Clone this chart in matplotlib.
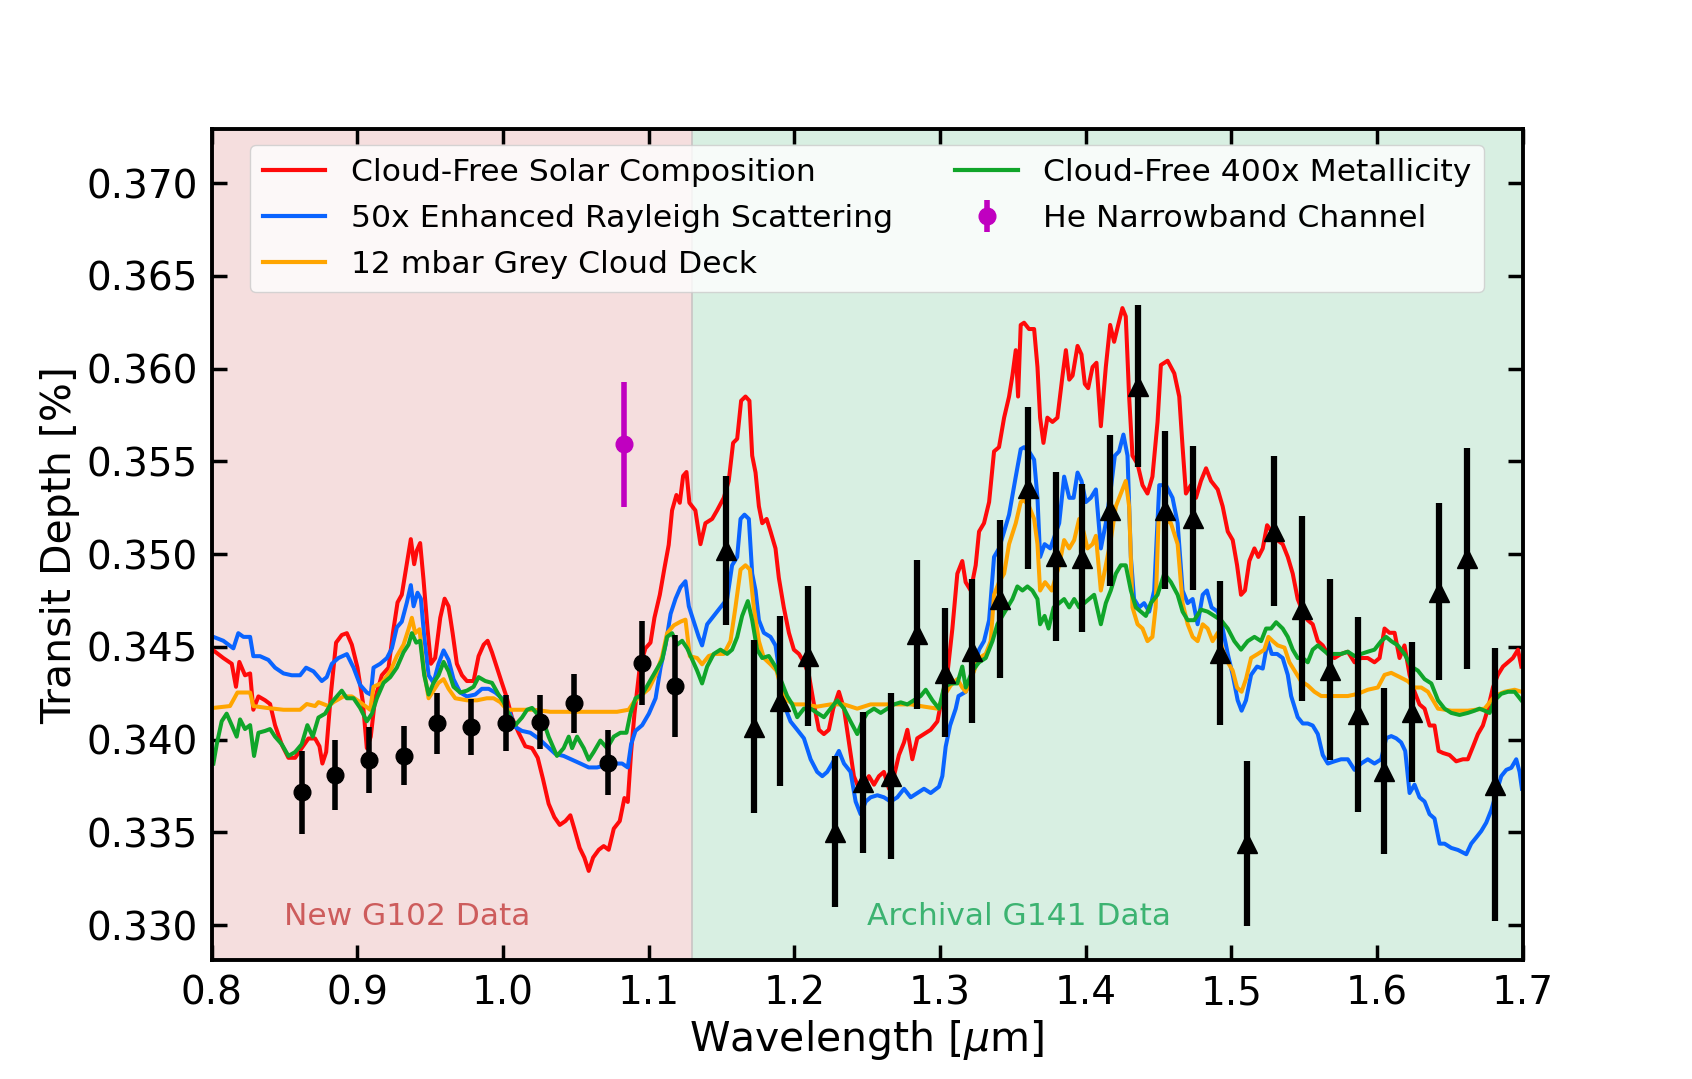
import numpy as np
import matplotlib
matplotlib.use("Agg")
import matplotlib.pyplot as plt
from matplotlib.ticker import FormatStrFormatter

# ---------------- data ----------------
solar_pts = [
    (0.8013,0.34481),(0.8081,0.34440),(0.8139,0.34409),(0.8168,0.34285),(0.8191,0.34419),(0.8230,0.34347),
    (0.8265,0.34357),(0.8287,0.34161),(0.8322,0.34233),(0.8368,0.34212),(0.8402,0.34192),(0.8436,0.34078),
    (0.8482,0.33974),(0.8528,0.33902),(0.8574,0.33902),(0.8619,0.33954),(0.8665,0.34006),(0.8711,0.34006),
    (0.8741,0.33964),(0.8761,0.33871),(0.8787,0.33933),(0.8819,0.34243),(0.8855,0.34523),(0.8894,0.34564),
    (0.8929,0.34574),(0.8963,0.34512),(0.9002,0.34388),(0.9039,0.34202),(0.9066,0.33954),(0.9093,0.34016),
    (0.9123,0.34223),(0.9169,0.34347),(0.9215,0.34388),(0.9245,0.34574),(0.9277,0.34740),(0.9306,0.34781),
    (0.9336,0.34926),(0.9368,0.35081),(0.9391,0.34946),(0.9409,0.35019),(0.9432,0.35060),(0.9455,0.34864),
    (0.9483,0.34595),(0.9506,0.34409),(0.9535,0.34440),(0.9570,0.34657),(0.9600,0.34760),(0.9627,0.34719),
    (0.9655,0.34574),(0.9684,0.34409),(0.9719,0.34347),(0.9753,0.34316),(0.9799,0.34316),(0.9833,0.34450),
    (0.9868,0.34512),(0.9895,0.34533),(0.9925,0.34471),(0.9959,0.34388),(0.9993,0.34306),(1.0028,0.34223),
    (1.0062,0.34119),(1.0108,0.34037),(1.0154,0.33964),(1.0200,0.33954),(1.0239,0.33902),(1.0275,0.33788),
    (1.0314,0.33654),(1.0353,0.33582),(1.0390,0.33540),(1.0429,0.33561),(1.0463,0.33592),(1.0490,0.33520),
    (1.0527,0.33416),(1.0559,0.33364),(1.0589,0.33292),(1.0619,0.33364),(1.0658,0.33406),(1.0692,0.33426),
    (1.0726,0.33406),(1.0761,0.33520),(1.0802,0.33561),(1.0834,0.33685),(1.0857,0.33664),(1.0880,0.33933),
    (1.0903,0.34140),(1.0939,0.34388),(1.0978,0.34492),(1.1013,0.34523),(1.1040,0.34657),(1.1077,0.34781),
    (1.1109,0.34926),(1.1138,0.35050),(1.1161,0.35236),(1.1191,0.35319),(1.1214,0.35277),(1.1237,0.35422),
    (1.1260,0.35443),(1.1280,0.35277),
    (1.1321,0.35236),(1.1356,0.35054),(1.1390,0.35167),(1.1436,0.35190),(1.1470,0.35236),(1.1516,0.35304),
    (1.1550,0.35395),(1.1580,0.35600),(1.1608,0.35622),(1.1635,0.35827),(1.1665,0.35850),(1.1692,0.35827),
    (1.1711,0.35531),(1.1734,0.35440),(1.1757,0.35258),(1.1780,0.35167),(1.1810,0.35190),(1.1837,0.35122),
    (1.1871,0.35031),(1.1894,0.34872),(1.1928,0.34713),(1.1963,0.34576),(1.1997,0.34485),(1.2032,0.34462),
    (1.2066,0.34417),(1.2100,0.34349),(1.2135,0.34190),(1.2169,0.34053),(1.2203,0.34030),(1.2237,0.34053),
    (1.2267,0.34167),(1.2306,0.34258),(1.2341,0.34167),(1.2375,0.33985),(1.2409,0.33803),(1.2444,0.33735),
    (1.2478,0.33757),(1.2512,0.33803),(1.2547,0.33757),(1.2581,0.33803),(1.2615,0.33826),(1.2650,0.33735),
    (1.2684,0.33803),(1.2718,0.33917),(1.2753,0.33985),(1.2776,0.34053),(1.2810,0.33894),(1.2844,0.34007),
    (1.2890,0.34030),(1.2936,0.34053),(1.2982,0.34098),(1.3016,0.34235),(1.3050,0.34349),(1.3085,0.34599),
    (1.3119,0.34895),(1.3153,0.34963),(1.3176,0.34849),(1.3211,0.34804),(1.3245,0.34940),(1.3268,0.35122),
    (1.3302,0.35167),(1.3337,0.35281),(1.3371,0.35554),(1.3405,0.35577),(1.3440,0.35736),(1.3474,0.35850),
    (1.3497,0.35963),(1.3520,0.36100),(1.3536,0.35850),(1.3554,0.36236),(1.3577,0.36248),(1.3611,0.36214),
    (1.3646,0.36214),(1.3669,0.36009),(1.3687,0.35736),(1.3710,0.35600),(1.3737,0.35736),(1.3772,0.35713),
    (1.3806,0.35736),(1.3841,0.35963),(1.3864,0.36100),(1.3887,0.35941),(1.3910,0.35963),(1.3944,0.36123),
    (1.3971,0.36077),(1.3994,0.35918),(1.4017,0.35895),(1.4047,0.36009),(1.4074,0.36032),(1.4104,0.35690),
    (1.4138,0.36009),(1.4168,0.36236),(1.4195,0.36145),(1.4223,0.36236),(1.4252,0.36327),(1.4275,0.36282),
    (1.4298,0.35850),(1.4321,0.35531),(1.4356,0.35486),(1.4390,0.35372),(1.4424,0.35327),(1.4458,0.35418),
    (1.4493,0.35713),
    (1.4516,0.36020),(1.4562,0.36043),(1.4608,0.35975),(1.4642,0.35850),(1.4665,0.35577),(1.4688,0.35327),
    (1.4722,0.35372),(1.4757,0.35304),(1.4791,0.35395),(1.4826,0.35463),(1.4860,0.35395),(1.4906,0.35349),
    (1.4940,0.35258),(1.4975,0.35122),(1.5009,0.35076),(1.5039,0.34940),(1.5066,0.34781),(1.5093,0.34804),
    (1.5123,0.34963),(1.5158,0.35031),(1.5185,0.34985),(1.5215,0.35031),(1.5245,0.35156),(1.5277,0.35122),
    (1.5314,0.35076),(1.5352,0.35054),(1.5387,0.34985),(1.5421,0.34895),(1.5455,0.34758),(1.5490,0.34690),
    (1.5524,0.34644),(1.5558,0.34622),(1.5593,0.34531),(1.5627,0.34508),(1.5662,0.34462),(1.5707,0.34440),
    (1.5753,0.34462),(1.5799,0.34474),(1.5845,0.34417),(1.5890,0.34440),(1.5936,0.34440),(1.5982,0.34417),
    (1.6017,0.34440),(1.6051,0.34599),(1.6085,0.34576),(1.6120,0.34576),(1.6154,0.34440),(1.6188,0.34508),
    (1.6223,0.34349),(1.6257,0.34258),(1.6291,0.34190),(1.6326,0.34167),(1.6360,0.34076),(1.6394,0.34076),
    (1.6422,0.33939),(1.6452,0.33928),(1.6497,0.33917),(1.6543,0.33883),(1.6589,0.33894),(1.6623,0.33894),
    (1.6658,0.33962),(1.6692,0.34030),(1.6726,0.34076),(1.6761,0.34167),(1.6795,0.34281),(1.6829,0.34349),
    (1.6864,0.34394),(1.6898,0.34417),(1.6932,0.34440),(1.6967,0.34485),(1.6990,0.34394),
]

rayleigh_pts = [
    (0.8013,0.34554),(0.8081,0.34533),(0.8150,0.34492),(0.8184,0.34574),(0.8219,0.34554),(0.8265,0.34554),
    (0.8287,0.34450),(0.8333,0.34450),(0.8390,0.34430),(0.8436,0.34388),(0.8494,0.34357),(0.8551,0.34347),
    (0.8608,0.34347),(0.8649,0.34388),(0.8700,0.34368),(0.8757,0.34316),(0.8791,0.34337),(0.8826,0.34409),
    (0.8871,0.34440),(0.8929,0.34461),(0.8975,0.34388),(0.9020,0.34295),(0.9066,0.34254),(0.9093,0.34243),
    (0.9112,0.34388),(0.9158,0.34409),(0.9204,0.34440),(0.9238,0.34492),(0.9272,0.34605),(0.9306,0.34636),
    (0.9341,0.34740),(0.9368,0.34833),(0.9387,0.34719),(0.9414,0.34792),(0.9437,0.34760),(0.9460,0.34554),
    (0.9490,0.34347),(0.9524,0.34306),(0.9558,0.34409),(0.9593,0.34481),(0.9627,0.34430),(0.9661,0.34326),
    (0.9707,0.34254),(0.9753,0.34233),(0.9810,0.34243),(0.9856,0.34274),(0.9902,0.34274),(0.9948,0.34254),
    (0.9993,0.34223),(1.0039,0.34161),(1.0085,0.34068),(1.0131,0.34047),(1.0188,0.34037),(1.0245,0.34006),
    (1.0303,0.33964),(1.0360,0.33923),(1.0417,0.33912),(1.0474,0.33892),(1.0532,0.33871),(1.0589,0.33850),
    (1.0646,0.33850),(1.0703,0.33861),(1.0761,0.33871),(1.0818,0.33871),(1.0857,0.33850),(1.0880,0.33975),
    (1.0910,0.34047),(1.0956,0.34078),(1.1002,0.34140),(1.1048,0.34223),(1.1082,0.34388),(1.1117,0.34512),
    (1.1151,0.34678),(1.1185,0.34760),(1.1219,0.34822),(1.1253,0.34854),(1.1276,0.34719),
    (1.1344,0.34554),(1.1367,0.34508),(1.1402,0.34622),(1.1447,0.34667),(1.1493,0.34713),(1.1539,0.34758),
    (1.1573,0.34940),(1.1608,0.34985),(1.1631,0.35190),(1.1658,0.35213),(1.1688,0.35190),(1.1711,0.34895),
    (1.1734,0.34804),(1.1757,0.34644),(1.1791,0.34576),(1.1837,0.34554),(1.1871,0.34508),(1.1905,0.34326),
    (1.1940,0.34167),(1.1974,0.34098),(1.2020,0.34053),(1.2066,0.34007),(1.2112,0.33894),(1.2157,0.33826),
    (1.2192,0.33803),(1.2226,0.33826),(1.2260,0.33871),(1.2306,0.33939),(1.2341,0.33871),(1.2386,0.33826),
    (1.2421,0.33666),(1.2455,0.33598),(1.2490,0.33666),(1.2524,0.33689),(1.2570,0.33700),(1.2615,0.33689),
    (1.2661,0.33666),(1.2707,0.33689),(1.2753,0.33735),(1.2799,0.33689),(1.2844,0.33712),(1.2890,0.33735),
    (1.2936,0.33712),(1.2993,0.33746),(1.3016,0.33803),(1.3039,0.33962),(1.3069,0.34076),(1.3108,0.34167),
    (1.3127,0.34235),(1.3177,0.34258),(1.3223,0.34349),(1.3268,0.34485),(1.3302,0.34531),(1.3337,0.34644),
    (1.3371,0.34985),(1.3405,0.35031),(1.3440,0.35122),(1.3474,0.35213),(1.3520,0.35418),(1.3554,0.35566),
    (1.3577,0.35577),(1.3611,0.35554),(1.3646,0.35509),(1.3669,0.35304),(1.3687,0.34985),(1.3718,0.35054),
    (1.3757,0.35031),(1.3818,0.35167),(1.3852,0.35418),(1.3887,0.35304),(1.3917,0.35304),(1.3944,0.35440),
    (1.3971,0.35395),(1.4001,0.35281),(1.4035,0.35304),(1.4070,0.35349),(1.4104,0.35031),(1.4138,0.35167),
    (1.4172,0.35349),(1.4200,0.35531),(1.4229,0.35554),(1.4259,0.35645),(1.4287,0.35531),(1.4310,0.34985),
    (1.4332,0.34758),(1.4367,0.34713),(1.4401,0.34736),(1.4436,0.34690),(1.4470,0.34804),
    (1.4505,0.35372),(1.4551,0.35372),(1.4596,0.35304),(1.4631,0.35167),(1.4665,0.34804),(1.4700,0.34736),
    (1.4734,0.34758),(1.4768,0.34622),(1.4803,0.34781),(1.4832,0.34804),(1.4864,0.34713),(1.4906,0.34690),
    (1.4940,0.34599),(1.4975,0.34462),(1.5009,0.34349),(1.5043,0.34212),(1.5070,0.34156),(1.5100,0.34212),
    (1.5135,0.34349),(1.5176,0.34394),(1.5215,0.34383),(1.5249,0.34531),(1.5277,0.34462),(1.5314,0.34462),
    (1.5352,0.34440),(1.5387,0.34349),(1.5410,0.34235),(1.5455,0.34121),(1.5490,0.34087),(1.5524,0.34087),
    (1.5558,0.34076),(1.5593,0.34030),(1.5627,0.33917),(1.5662,0.33871),(1.5707,0.33883),(1.5753,0.33894),
    (1.5799,0.33894),(1.5845,0.33837),(1.5890,0.33871),(1.5936,0.33894),(1.5982,0.33871),(1.6028,0.33894),
    (1.6062,0.34007),(1.6097,0.34019),(1.6131,0.34007),(1.6165,0.33985),(1.6193,0.33939),(1.6223,0.33712),
    (1.6257,0.33757),(1.6291,0.33689),(1.6326,0.33666),(1.6360,0.33598),(1.6394,0.33575),(1.6429,0.33439),
    (1.6463,0.33439),(1.6509,0.33416),(1.6555,0.33405),(1.6612,0.33382),(1.6646,0.33439),(1.6681,0.33473),
    (1.6715,0.33507),(1.6749,0.33552),(1.6784,0.33621),(1.6818,0.33712),(1.6852,0.33803),(1.6887,0.33837),
    (1.6921,0.33848),(1.6955,0.33894),(1.6978,0.33826),(1.6994,0.33735),
]

grey_cloud_pts = [
    (0.8013,0.34171),(0.8127,0.34181),(0.8178,0.34254),(0.8265,0.34254),(0.8287,0.34181),(0.8379,0.34171),
    (0.8494,0.34161),(0.8608,0.34161),(0.8654,0.34192),(0.8711,0.34181),(0.8734,0.34202),(0.8803,0.34181),
    (0.8837,0.34202),(0.8906,0.34233),(0.8963,0.34233),(0.9020,0.34202),(0.9089,0.34161),(0.9112,0.34285),
    (0.9169,0.34306),(0.9227,0.34368),(0.9272,0.34450),(0.9318,0.34512),(0.9352,0.34595),(0.9375,0.34657),
    (0.9398,0.34574),(0.9428,0.34595),(0.9455,0.34388),(0.9490,0.34223),(0.9524,0.34264),(0.9558,0.34306),
    (0.9593,0.34326),(0.9627,0.34274),(0.9673,0.34223),(0.9753,0.34212),(0.9822,0.34212),(0.9890,0.34223),
    (0.9936,0.34223),(0.9982,0.34202),(1.0028,0.34161),(1.0097,0.34161),(1.0211,0.34161),(1.0325,0.34150),
    (1.0440,0.34150),(1.0554,0.34150),(1.0669,0.34150),(1.0783,0.34150),(1.0863,0.34161),(1.0898,0.34202),
    (1.0956,0.34243),(1.1002,0.34274),(1.1048,0.34347),(1.1093,0.34450),(1.1127,0.34574),(1.1173,0.34616),
    (1.1219,0.34636),(1.1253,0.34647),(1.1283,0.34450),
    (1.1333,0.34440),(1.1367,0.34406),(1.1413,0.34451),(1.1459,0.34462),(1.1516,0.34462),(1.1562,0.34531),
    (1.1596,0.34713),(1.1631,0.34917),(1.1665,0.34940),(1.1695,0.34917),(1.1722,0.34713),(1.1757,0.34531),
    (1.1791,0.34440),(1.1837,0.34406),(1.1878,0.34372),(1.1917,0.34258),(1.1951,0.34212),(1.1997,0.34190),
    (1.2066,0.34190),(1.2157,0.34178),(1.2249,0.34190),(1.2341,0.34190),(1.2432,0.34167),(1.2524,0.34190),
    (1.2615,0.34190),(1.2707,0.34190),(1.2799,0.34190),(1.2890,0.34178),(1.2982,0.34167),(1.3027,0.34235),
    (1.3073,0.34292),(1.3119,0.34326),(1.3153,0.34281),(1.3177,0.34258),(1.3223,0.34349),(1.3268,0.34440),
    (1.3314,0.34462),(1.3348,0.34531),(1.3371,0.34781),(1.3405,0.34849),(1.3440,0.34895),(1.3474,0.35054),
    (1.3520,0.35167),(1.3554,0.35281),(1.3577,0.35292),(1.3611,0.35258),(1.3646,0.35190),(1.3669,0.35054),
    (1.3687,0.34804),(1.3721,0.34849),(1.3767,0.34804),(1.3818,0.34940),(1.3852,0.35076),(1.3887,0.35031),
    (1.3921,0.35076),(1.3955,0.35190),(1.3985,0.35122),(1.4012,0.35031),(1.4047,0.35054),(1.4070,0.35099),
    (1.4104,0.34804),(1.4138,0.34940),(1.4172,0.35076),(1.4207,0.35258),(1.4241,0.35327),(1.4275,0.35395),
    (1.4298,0.35258),(1.4321,0.34713),(1.4356,0.34622),(1.4390,0.34599),(1.4424,0.34531),(1.4458,0.34554),
    (1.4480,0.34713),
    (1.4500,0.35190),(1.4539,0.35190),(1.4585,0.35167),(1.4631,0.35054),(1.4665,0.34736),(1.4700,0.34622),
    (1.4734,0.34554),(1.4768,0.34531),(1.4803,0.34622),(1.4837,0.34599),(1.4871,0.34531),(1.4906,0.34576),
    (1.4940,0.34485),(1.4975,0.34417),(1.5009,0.34372),(1.5039,0.34281),(1.5070,0.34258),(1.5100,0.34326),
    (1.5135,0.34440),(1.5181,0.34462),(1.5226,0.34485),(1.5254,0.34554),(1.5284,0.34531),(1.5318,0.34508),
    (1.5364,0.34496),(1.5398,0.34417),(1.5433,0.34372),(1.5478,0.34315),(1.5524,0.34292),(1.5570,0.34258),
    (1.5616,0.34235),(1.5662,0.34235),(1.5730,0.34235),(1.5799,0.34235),(1.5868,0.34247),(1.5936,0.34269),
    (1.6005,0.34281),(1.6051,0.34349),(1.6097,0.34360),(1.6154,0.34338),(1.6211,0.34315),(1.6257,0.34281),
    (1.6303,0.34281),(1.6349,0.34258),(1.6418,0.34167),(1.6509,0.34156),(1.6623,0.34156),(1.6738,0.34167),
    (1.6807,0.34235),(1.6875,0.34258),(1.6944,0.34269),(1.6990,0.34258),
]

metal_pts = [
    (0.8013,0.33871),(0.8036,0.33975),(0.8070,0.34099),(0.8104,0.34140),(0.8139,0.34078),(0.8173,0.34016),
    (0.8196,0.34109),(0.8230,0.34057),(0.8265,0.34078),(0.8292,0.33912),(0.8322,0.34037),(0.8368,0.34047),
    (0.8402,0.34057),(0.8436,0.34016),(0.8482,0.33975),(0.8528,0.33912),(0.8574,0.33933),(0.8619,0.33975),
    (0.8658,0.34078),(0.8695,0.34016),(0.8734,0.34119),(0.8780,0.34140),(0.8826,0.34202),(0.8860,0.34233),
    (0.8894,0.34264),(0.8929,0.34223),(0.8975,0.34223),(0.9020,0.34171),(0.9066,0.34099),(0.9101,0.34140),
    (0.9135,0.34223),(0.9181,0.34306),(0.9227,0.34337),(0.9272,0.34388),(0.9318,0.34471),(0.9352,0.34512),
    (0.9375,0.34574),(0.9405,0.34523),(0.9432,0.34533),(0.9460,0.34347),(0.9490,0.34243),(0.9524,0.34306),
    (0.9558,0.34347),(0.9593,0.34419),(0.9627,0.34368),(0.9661,0.34285),(0.9707,0.34254),(0.9753,0.34264),
    (0.9799,0.34285),(0.9833,0.34337),(0.9879,0.34316),(0.9925,0.34306),(0.9970,0.34243),(1.0005,0.34202),
    (1.0039,0.34140),(1.0085,0.34078),(1.0131,0.34119),(1.0166,0.34161),(1.0200,0.34171),(1.0234,0.34140),
    (1.0269,0.34119),(1.0314,0.34016),(1.0371,0.33912),(1.0417,0.33954),(1.0452,0.34016),(1.0475,0.33954),
    (1.0509,0.34016),(1.0555,0.33954),(1.0589,0.33892),(1.0623,0.33933),(1.0669,0.33995),(1.0715,0.33954),
    (1.0761,0.34016),(1.0806,0.34037),(1.0848,0.34037),(1.0875,0.34140),(1.0910,0.34223),(1.0956,0.34243),
    (1.1002,0.34306),(1.1048,0.34368),(1.1093,0.34430),(1.1127,0.34554),(1.1161,0.34574),(1.1196,0.34512),
    (1.1230,0.34533),(1.1265,0.34492),
    (1.1333,0.34372),(1.1367,0.34303),(1.1402,0.34394),(1.1447,0.34462),(1.1493,0.34485),(1.1539,0.34462),
    (1.1573,0.34485),(1.1608,0.34553),(1.1642,0.34667),(1.1681,0.34747),(1.1711,0.34644),(1.1745,0.34485),
    (1.1780,0.34440),(1.1825,0.34451),(1.1871,0.34394),(1.1917,0.34303),(1.1951,0.34235),(1.1986,0.34190),
    (1.2020,0.34121),(1.2066,0.34167),(1.2112,0.34167),(1.2157,0.34144),(1.2203,0.34121),(1.2249,0.34167),
    (1.2295,0.34212),(1.2341,0.34167),(1.2386,0.34098),(1.2432,0.34030),(1.2466,0.34098),(1.2501,0.34144),
    (1.2547,0.34167),(1.2593,0.34144),(1.2638,0.34167),(1.2684,0.34190),(1.2730,0.34201),(1.2776,0.34190),
    (1.2821,0.34212),(1.2867,0.34235),(1.2902,0.34269),(1.2948,0.34212),(1.2993,0.34167),(1.3027,0.34281),
    (1.3073,0.34303),(1.3119,0.34303),(1.3153,0.34394),(1.3177,0.34281),(1.3223,0.34372),(1.3268,0.34417),
    (1.3314,0.34440),(1.3360,0.34531),(1.3394,0.34622),(1.3428,0.34667),(1.3463,0.34713),(1.3497,0.34758),
    (1.3531,0.34826),(1.3566,0.34804),(1.3600,0.34826),(1.3634,0.34804),(1.3669,0.34758),(1.3687,0.34622),
    (1.3718,0.34667),(1.3745,0.34599),(1.3780,0.34713),(1.3818,0.34736),(1.3852,0.34758),(1.3887,0.34713),
    (1.3921,0.34758),(1.3955,0.34713),(1.3990,0.34736),(1.4024,0.34758),(1.4058,0.34781),(1.4104,0.34622),
    (1.4138,0.34736),(1.4172,0.34804),(1.4207,0.34895),(1.4241,0.34940),(1.4275,0.34940),(1.4310,0.34804),
    (1.4344,0.34713),(1.4378,0.34690),(1.4413,0.34667),(1.4447,0.34736),(1.4493,0.34781),
    (1.4539,0.34895),(1.4585,0.34849),(1.4631,0.34781),(1.4665,0.34690),(1.4700,0.34644),(1.4745,0.34644),
    (1.4791,0.34701),(1.4837,0.34690),(1.4883,0.34667),(1.4929,0.34644),(1.4975,0.34599),(1.5020,0.34531),
    (1.5066,0.34485),(1.5112,0.34531),(1.5158,0.34554),(1.5204,0.34531),(1.5238,0.34599),(1.5272,0.34599),
    (1.5307,0.34633),(1.5352,0.34599),(1.5387,0.34554),(1.5421,0.34485),(1.5455,0.34440),(1.5490,0.34440),
    (1.5524,0.34417),(1.5558,0.34485),(1.5593,0.34508),(1.5627,0.34485),(1.5662,0.34462),(1.5707,0.34462),
    (1.5753,0.34462),(1.5799,0.34474),(1.5845,0.34451),(1.5890,0.34462),(1.5936,0.34474),(1.5982,0.34485),
    (1.6028,0.34531),(1.6062,0.34554),(1.6097,0.34531),(1.6142,0.34508),(1.6188,0.34462),(1.6234,0.34394),
    (1.6280,0.34372),(1.6326,0.34326),(1.6372,0.34303),(1.6418,0.34212),(1.6463,0.34167),(1.6509,0.34144),
    (1.6566,0.34133),(1.6623,0.34144),(1.6669,0.34156),(1.6703,0.34167),(1.6738,0.34156),(1.6772,0.34144),
    (1.6807,0.34212),(1.6852,0.34247),(1.6898,0.34258),(1.6944,0.34258),(1.6990,0.34212),
]

g102_wl = [0.8619, 0.8848, 0.9082, 0.9318, 0.9551, 0.9783, 1.0021, 1.0252, 1.0486, 1.0719, 1.0953, 1.1184]
g102_depth = [0.33716, 0.33810, 0.33890, 0.33913, 0.34089, 0.34068, 0.34089, 0.34095, 0.34196, 0.33875, 0.34413, 0.34289]
g102_err = [0.00224, 0.00190, 0.00177, 0.00160, 0.00165, 0.00150, 0.00151, 0.00146, 0.00158, 0.00176, 0.00227, 0.00274]

g141_wl = [1.1534, 1.1725, 1.1905, 1.2096, 1.2281, 1.2471, 1.2661, 1.2844, 1.3032, 1.3222, 1.3415, 1.3604,
           1.3795, 1.3975, 1.4165, 1.4356, 1.4546, 1.4734, 1.4924, 1.5107, 1.5294, 1.5484, 1.5677, 1.5867,
           1.6045, 1.6238, 1.6428, 1.6618, 1.6806]
g141_depth = [0.35020, 0.34069, 0.34209, 0.34451, 0.33504, 0.33769, 0.33803, 0.34567, 0.34361, 0.34480,
              0.34759, 0.35356, 0.34988, 0.34980, 0.35238, 0.35907, 0.35237, 0.35196, 0.34468, 0.33441,
              0.35126, 0.34707, 0.34378, 0.34136, 0.33830, 0.34150, 0.34798, 0.34977, 0.33757]
g141_err = [0.00400, 0.00466, 0.00458, 0.00380, 0.00406, 0.00380, 0.00448, 0.00400, 0.00348, 0.00388,
            0.00427, 0.00438, 0.00457, 0.00400, 0.00407, 0.00439, 0.00427, 0.00387, 0.00388, 0.00446,
            0.00406, 0.00499, 0.00489, 0.00527, 0.00447, 0.00377, 0.00476, 0.00596, 0.00735]

he_wl = [1.0834]
he_depth = [0.35592]
he_err = [0.00335]

model_labels = ["Cloud-Free Solar Composition", "50x Enhanced Rayleigh Scattering",
                "12 mbar Grey Cloud Deck", "Cloud-Free 400x Metallicity"]
he_label = "He Narrowband Channel"
region_labels = ["New G102 Data", "Archival G141 Data"]
yticks = [0.330, 0.335, 0.340, 0.345, 0.350, 0.355, 0.360, 0.365, 0.370]
xticks = [0.8, 0.9, 1.0, 1.1, 1.2, 1.3, 1.4, 1.5, 1.6, 1.7]

# ---------------- figure ----------------
fig = plt.figure(figsize=(16.92, 10.79), dpi=100)
ax = fig.add_subplot(111)

ax.axvspan(0.8, 1.13, color='indianred', alpha=0.2, lw=0, zorder=0)
ax.axvspan(1.13, 1.7, color='mediumseagreen', alpha=0.2, lw=0, zorder=0)
ax.axvline(1.13, color='#c9c4c4', lw=1.2, zorder=0.5)

models = [solar_pts, rayleigh_pts, grey_cloud_pts, metal_pts]
colors = ['#ff0a0a', '#0a64ff', '#ffa500', '#10a52a']
handles = []
for pts, col, lab in zip(models, colors, model_labels):
    x, y = zip(*pts)
    h, = ax.plot(x, y, color=col, lw=2.9, label=lab, zorder=2)
    handles.append(h)

ax.errorbar(g102_wl, g102_depth, yerr=g102_err, fmt='o', color='k', ms=12,
            elinewidth=4, capsize=0, zorder=3)
ax.errorbar(g141_wl, g141_depth, yerr=g141_err, fmt='^', color='k', ms=14,
            elinewidth=4.5, capsize=0, zorder=3)
he = ax.errorbar(he_wl, he_depth, yerr=he_err, fmt='o', color='#c000c0', ms=12,
                 elinewidth=4, capsize=0, zorder=3, label=he_label)

ax.text(0.85, 0.330, region_labels[0], color='indianred', fontsize=22.5, zorder=4)
ax.text(1.25, 0.330, region_labels[1], color='mediumseagreen', fontsize=22.5, zorder=4)

ax.set_xlim(0.8, 1.7)
ax.set_ylim(0.3281, 0.3729)
ax.set_xticks(xticks)
ax.set_yticks(yticks)
ax.xaxis.set_major_formatter(FormatStrFormatter('%.1f'))
ax.yaxis.set_major_formatter(FormatStrFormatter('%.3f'))
ax.tick_params(direction='in', top=True, right=True, length=11, width=2.5,
               labelsize=28, pad=10)
for s in ax.spines.values():
    s.set_linewidth(2.8)

ax.set_xlabel('Wavelength [$\\mu$m]', fontsize=29.5)
ax.set_ylabel('Transit Depth [%]', fontsize=29.5)

leg = ax.legend(handles + [he], model_labels + [he_label], loc='upper center', ncol=2,
                fontsize=22.6, framealpha=0.8, labelspacing=0.55)
for lh in leg.get_lines():
    lh.set_linewidth(3)

fig.savefig('out.png', dpi=100)
